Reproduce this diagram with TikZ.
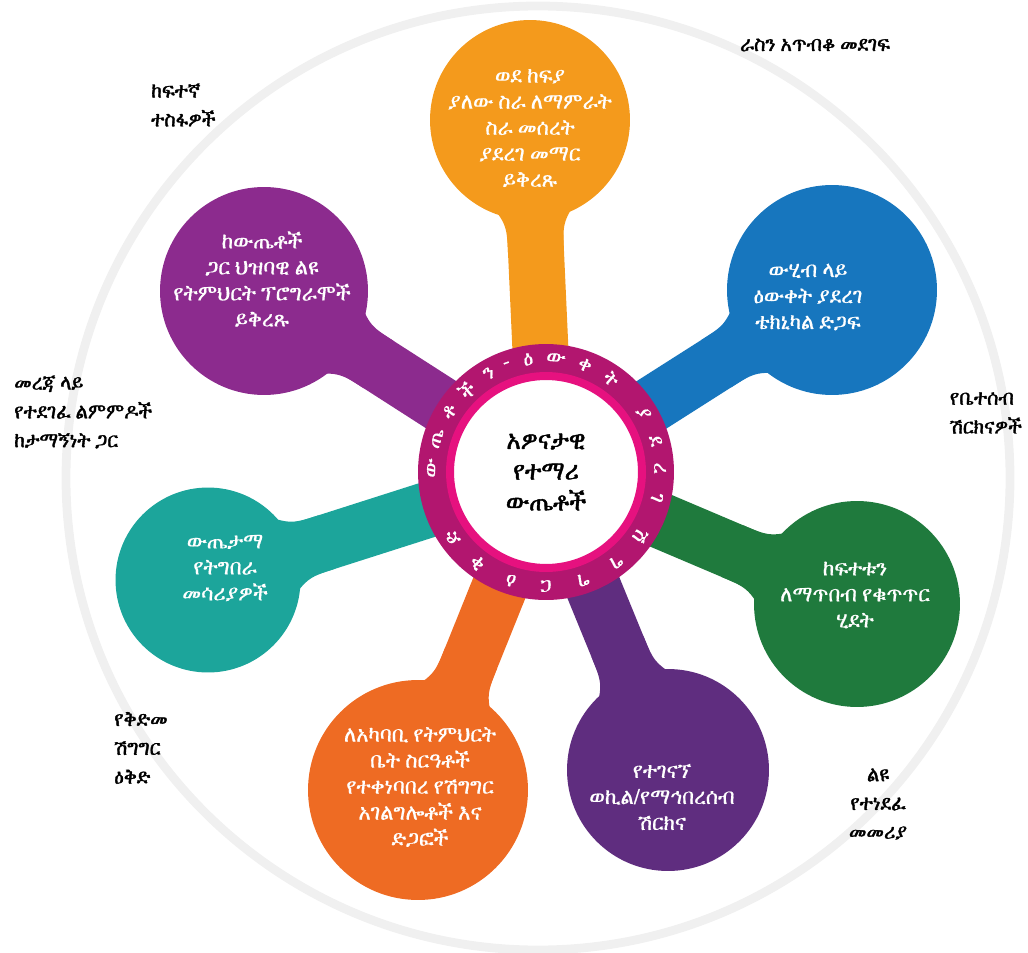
\documentclass[tikz,border=0pt]{standalone}
\usepackage{fontspec}
\usepackage{tikz}
\usetikzlibrary{positioning,calc,backgrounds}

\IfFontExistsTF{FreeSerif}
  {\newfontfamily\ethfont[FakeBold=0.6,FakeStretch=0.95]{FreeSerif}\newfontfamily\ethbold[FakeBold=1.6,FakeStretch=0.92]{FreeSerif}}
  {\IfFontExistsTF{Abyssinica SIL}
    {\newfontfamily\ethfont{Abyssinica SIL}\newfontfamily\ethbold[FakeBold=1.6]{Abyssinica SIL}}
    {\newfontfamily\ethfont{DejaVu Sans}\newfontfamily\ethbold{DejaVu Sans}}}

\definecolor{orangeA}{HTML}{F49A1C}
\definecolor{blueB}{HTML}{1776BE}
\definecolor{greenC}{HTML}{1F7A3D}
\definecolor{violetD}{HTML}{5F2D7F}
\definecolor{orangeE}{HTML}{EE6B23}
\definecolor{tealF}{HTML}{1CA59B}
\definecolor{purpleG}{HTML}{8C2B8E}
\definecolor{ringdark}{HTML}{B2166F}
\definecolor{ringpink}{HTML}{E6117F}

\tikzset{
  bubble/.style={circle, fill=#1, inner sep=0pt},
  bubtext/.style={text=white, align=center, font=\ethfont\fontsize{12.5}{14.8}\selectfont},
  stem/.style={line width=1.12cm, draw=#1},
  outlabel/.style={align=left, font=\ethbold\fontsize{12}{16.4}\selectfont},
  ringchar/.style={text=white, inner sep=0pt, font=\ethfont\fontsize{12}{12}\selectfont}
}

\begin{document}
\begin{tikzpicture}[x=0.02cm, y=-0.02cm]
    \useasboundingbox (0,0) rectangle (1028,953);
    % faint outer ring
    \draw[gray!12, line width=5pt] (538,478) circle (472);

    % bubbles
    \node[bubble=orangeA, minimum size=4cm]    (goals)  at (530,120) {};
    \node[bubble=blueB,   minimum size=4.2cm]  (data)   at (832,290) {};
    \node[bubble=greenC,  minimum size=4.12cm] (gap)    at (857,604) {};
    \node[bubble=violetD, minimum size=4.04cm] (agency) at (668,770) {};
    \node[bubble=orangeE, minimum size=4.4cm]  (school) at (418,790) {};
    \node[bubble=tealF,   minimum size=3.7cm]  (tools)  at (208,580) {};
    \node[bubble=purpleG, minimum size=4.16cm] (iep)    at (264,291) {};

    % hub
    \node[circle, fill=ringdark, inner sep=0pt, minimum size=5.12cm] (hub) at (546,472) {};
    \node[circle, fill=white, draw=ringpink, line width=0.16cm, inner sep=0pt, minimum size=3.84cm] (core) at (hub.center) {};
    \node[font=\ethbold\fontsize{15}{17.5}\selectfont, align=center] (title) at (core.center) {አዎናታዊ\\የተማሪ\\ውጤቶች};

    \begin{pgfonlayer}{background}
      \foreach \b/\c/\r in {goals/orangeA/2, data/blueB/2.1, gap/greenC/2.06, agency/violetD/2.02,
                            school/orangeE/2.2, tools/tealF/1.85, iep/purpleG/2.08}{
        \draw[stem=\c] (hub.center) -- (\b.center);
        % flared neck where the stem meets its bubble
        \coordinate (p) at ($(\b.center)!\r cm+0.65cm!(hub.center)$);
        \coordinate (k) at ($(\b.center)!\r cm+0.05cm!(hub.center)$);
        \coordinate (q) at ($(\b.center)!\r cm-0.6cm!(hub.center)$);
        \fill[\c] ($(p)!0.56cm!90:(hub.center)$) .. controls ($(k)!0.56cm!90:(hub.center)$) .. ($(q)!1.05cm!90:(hub.center)$)
          -- ($(q)!1.05cm!-90:(hub.center)$) .. controls ($(k)!0.56cm!-90:(hub.center)$) .. ($(p)!0.56cm!-90:(hub.center)$) -- cycle;
      }
    \end{pgfonlayer}

    % letters round the ring
    \foreach \a/\c in {178/ው, 163/ጤ, 148/ቶ, 134/ች, 120/ን, 110/-, 99/ዕ, 85/ው, 70/ቀ, 55/ት,
                       31/ያ, 16/ደ, 2/ረ, -13/ገ, -34/ሽ, -52/ግ, -71/ግ, -90/ር, -108/ዕ, -127/ቅ, -145/ድ}
      \node[ringchar, rotate=\a-90] (ring\a) at ($(hub.center)+({-(\a)}:114)$) {\c};

    % texts in the bubbles
    \node[bubtext] (goalstext)  at (530,128) {ወደ ከፍያ\\ያለው ስራ ለማምራት\\ስራ መሰረት\\ያደረገ መማር\\ይቅረጹ};
    \node[bubtext] (datatext)   at (808,297) {ውሂብ ላይ\\ዕውቀት ያደረገ\\ቴክኒካል ድጋፍ};
    \node[bubtext] (gaptext)    at (855,595) {ከፍተቱን\\ለማጥበብ የቁጥጥር\\ሂደት};
    \node[bubtext] (agencytext) at (662,797) {የተገናኘ\\ወኪል/የማኅበረሰብ\\ሽርክና};
    \node[bubtext] (schooltext) at (420,787) {ለአካባቢ የትምህርት\\ቤት ስርዓቶች\\የተቀነባበረ የሽግግር\\አገልግሎቶች እና\\ድጋፎች};
    \node[bubtext] (toolstext)  at (225,568) {ውጤታማ\\የትግበራ\\መሳሪያዎች};
    \node[bubtext] (ieptext)    at (262,279) {ከውጤቶች\\ጋር ህዝባዊ ልዩ\\የትምህርት ፕሮግራሞች\\ይቅረጹ};

    % labels outside
    \node[outlabel] (selfadv) at (815,45) {ራስን አጥብቆ መደገፍ};
    \node[outlabel, anchor=west] (highexp) at (145,105) {ከፍተኛ\\ተስፋዎች};
    \node[outlabel, anchor=west] (evidence) at (8,412) {መረጃ ላይ\\የተደገፈ ልምምዶች\\ከታማኝነት ጋር};
    \node[outlabel, anchor=east] (family) at (1028,413) {የቤተሰብ\\ሽርክናዎች};
    \node[outlabel, anchor=west] (early) at (108,748) {የቅድመ\\ሽግግር\\ዕቅድ};
    \node[outlabel, align=center] (sdi) at (878,804) {ልዩ\\የተነደፈ\\መመሪያ};
\end{tikzpicture}
\end{document}
